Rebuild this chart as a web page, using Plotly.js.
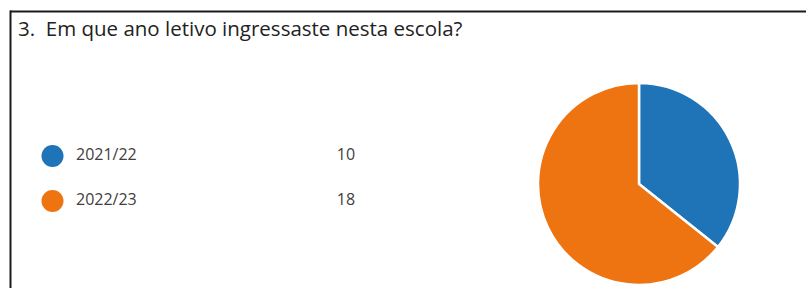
<!DOCTYPE html>
<html>
<head>
<meta charset="utf-8">
<script src="https://cdn.plot.ly/plotly-3.0.1.min.js"></script>
<style>html,body{margin:0;padding:0;background:#fff;}#chart{width:806px;height:288px;}</style>
</head>
<body>
<div id="chart"></div>
<script>
const titleText = "3.  Em que ano letivo ingressaste nesta escola?";
const categories = ["2021/22", "2022/23"];
const counts = [10, 18];
const colors = ["#1f73b7", "#ee7311"];

// legend row positions (pixel coordinates via hidden axes)
const legendY = [156, 201];

const traces = [
  {
    type: "pie",
    labels: categories,
    values: counts,
    sort: false,
    direction: "clockwise",
    rotation: 0,
    marker: { colors: colors, line: { color: "#ffffff", width: 2.5 } },
    textinfo: "none",
    hoverinfo: "label+value",
    showlegend: false,
    domain: { x: [(639 - 102) / 806, (639 + 102) / 806], y: [(105 - 102) / 288, (105 + 100) / 288] }
  },
  {
    type: "scatter",
    mode: "markers",
    x: categories.map(() => 52.5),
    y: legendY,
    marker: { size: 22, color: colors, line: { width: 0 } },
    hoverinfo: "skip",
    showlegend: false
  },
  {
    type: "scatter",
    mode: "text",
    x: categories.map(() => 76),
    y: legendY,
    text: categories,
    textposition: "middle right",
    textfont: { family: "Open Sans, Noto Sans, sans-serif", size: 16, color: "#404040" },
    hoverinfo: "skip",
    showlegend: false
  },
  {
    type: "scatter",
    mode: "text",
    x: counts.map(() => 346),
    y: legendY,
    text: counts.map(String),
    textposition: "middle center",
    textfont: { family: "Open Sans, Noto Sans, sans-serif", size: 16, color: "#404040" },
    hoverinfo: "skip",
    showlegend: false
  }
];

const layout = {
  width: 806,
  height: 288,
  margin: { l: 0, r: 0, t: 0, b: 0, pad: 0 },
  paper_bgcolor: "#ffffff",
  plot_bgcolor: "rgba(0,0,0,0)",
  showlegend: false,
  xaxis: { range: [0, 806], visible: false, fixedrange: true, domain: [0, 1] },
  yaxis: { range: [288, 0], visible: false, fixedrange: true, domain: [0, 1] },
  shapes: [
    { type: "line", xref: "x", yref: "y", x0: 10, x1: 806, y0: 11.5, y1: 11.5, line: { color: "#1a1a1a", width: 2 } },
    { type: "line", xref: "x", yref: "y", x0: 10.5, x1: 10.5, y0: 10.5, y1: 288, line: { color: "#1a1a1a", width: 2 } }
  ],
  annotations: [
    {
      xref: "x", yref: "y", x: 16, y: 28, xanchor: "left", yanchor: "middle",
      text: titleText, showarrow: false,
      font: { family: "Open Sans, Noto Sans, sans-serif", size: 20.5, color: "#222222" }
    }
  ]
};

Plotly.newPlot("chart", traces, layout, { staticPlot: true, displayModeBar: false });
</script>
</body>
</html>
